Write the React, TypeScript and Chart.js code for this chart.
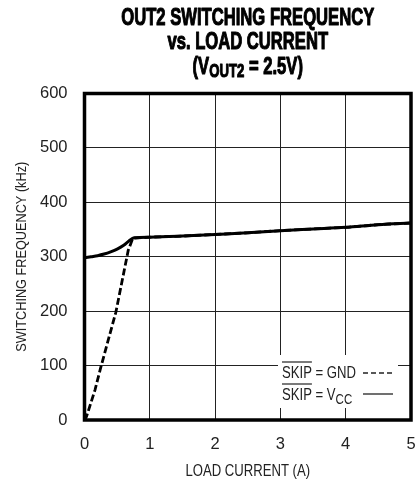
import { useEffect, useRef } from 'react';
import Chart from 'chart.js/auto';

const FONT = '"Liberation Sans", Arial, Helvetica, sans-serif';
const NARROW = 0.82;

const titleLine1 = 'OUT2 SWITCHING FREQUENCY';
const titleLine2 = 'vs. LOAD CURRENT';
const titleLine3Pre = '(V';
const titleLine3Sub = 'OUT2';
const titleLine3Post = ' = 2.5V)';

const xAxisTitle = 'LOAD CURRENT (A)';
const yAxisTitle = 'SWITCHING FREQUENCY (kHz)';
const xTickValues = [0, 1, 2, 3, 4, 5];
const yTickValues = [0, 100, 200, 300, 400, 500, 600];

// SKIP = VCC (solid)
const vccLoad = [0, 0.1, 0.2, 0.3, 0.4, 0.5, 0.6, 0.68, 0.76, 1, 1.5, 2, 2.5, 3, 3.5, 4, 4.5, 5];
const vccFreq = [298, 300, 302, 305, 309, 314, 321, 329, 335, 336, 338, 341, 344, 348, 351, 354, 359, 362];

// SKIP = GND (dashed)
const gndLoad = [0, 0.03, 0.16, 0.25, 0.48, 0.67, 0.74, 1, 1.5, 2, 2.5, 3, 3.5, 4, 4.5, 5];
const gndFreq = [0, 6, 55, 97, 198, 312, 334, 336, 338, 341, 344, 348, 351, 354, 359, 362];

const legendGnd = { main: 'SKIP', rest: ' = GND', sub: '' };
const legendVcc = { main: 'SKIP', rest: ' = V', sub: 'CC' };

export default function App() {
  const ref = useRef<HTMLCanvasElement | null>(null);

  useEffect(() => {
    if (!ref.current) return;

    const textPlugin = {
      id: 'textPlugin',
      afterDraw(chart: any) {
        const ctx = chart.ctx as CanvasRenderingContext2D;
        const ca = chart.chartArea;
        const cx = (ca.left + ca.right) / 2;
        const size = 24;
        const fMain = `bold ${size}px ${FONT}`;
        const fSub = `bold ${Math.round(size * 0.78)}px ${FONT}`;
        ctx.save();
        ctx.font = fMain;
        const sx = 253 / ctx.measureText(titleLine1).width;
        ctx.fillStyle = '#000';
        ctx.strokeStyle = '#000';
        ctx.lineWidth = 1.1;
        ctx.lineJoin = 'round';
        ctx.textBaseline = 'alphabetic';
        const drawCentered = (text: string, y: number) => {
          ctx.save();
          ctx.translate(cx, y);
          ctx.scale(sx, 1);
          ctx.font = fMain;
          ctx.textAlign = 'center';
          ctx.fillText(text, 0, 0);
          ctx.strokeText(text, 0, 0);
          ctx.restore();
        };
        drawCentered(titleLine1, 25);
        drawCentered(titleLine2, 48.5);
        ctx.save();
        ctx.translate(cx, 74);
        ctx.scale(sx, 1);
        ctx.textAlign = 'left';
        ctx.font = fMain;
        const w1 = ctx.measureText(titleLine3Pre).width;
        const w3 = ctx.measureText(titleLine3Post).width;
        ctx.font = fSub;
        const w2 = ctx.measureText(titleLine3Sub).width;
        let x = -(w1 + w2 + w3) / 2;
        ctx.font = fMain;
        ctx.fillText(titleLine3Pre, x, 0);
        ctx.strokeText(titleLine3Pre, x, 0);
        x += w1;
        ctx.font = fSub;
        ctx.fillText(titleLine3Sub, x, 3);
        ctx.strokeText(titleLine3Sub, x, 3);
        x += w2;
        ctx.font = fMain;
        ctx.fillText(titleLine3Post, x, 0);
        ctx.strokeText(titleLine3Post, x, 0);
        ctx.restore();

        // axis titles
        ctx.fillStyle = '#222';
        ctx.textAlign = 'center';
        ctx.textBaseline = 'alphabetic';
        ctx.save();
        ctx.translate(cx, 476);
        ctx.scale(NARROW, 1);
        ctx.font = `16px ${FONT}`;
        ctx.fillText(xAxisTitle, 0, 0);
        ctx.restore();
        ctx.save();
        ctx.translate(26, (ca.top + ca.bottom) / 2);
        ctx.rotate(-Math.PI / 2);
        ctx.font = `15.5px ${FONT}`;
        const sy = 190 / ctx.measureText(yAxisTitle).width;
        ctx.scale(sy, 1);
        ctx.fillText(yAxisTitle, 0, 0);
        ctx.restore();
        ctx.restore();
      },
    };

    const framePlugin = {
      id: 'framePlugin',
      afterDatasetsDraw(chart: any) {
        const ctx = chart.ctx as CanvasRenderingContext2D;
        const ca = chart.chartArea;
        ctx.save();
        ctx.fillStyle = '#fff';
        ctx.fillRect(ca.right - 133, ca.bottom - 65, 120, 53);
        ctx.fillStyle = '#222';
        ctx.strokeStyle = '#222';
        const fs = 16;
        const drawEntry = (entry: { main: string; rest: string; sub: string }, baseY: number, lineY: number, dashed: boolean) => {
          const x0 = ca.right - 129;
          ctx.save();
          ctx.translate(x0, baseY);
          ctx.scale(NARROW, 1);
          let x = 0;
          ctx.font = `${fs}px ${FONT}`;
          ctx.textAlign = 'left';
          ctx.textBaseline = 'alphabetic';
          ctx.fillText(entry.main, x, 0);
          const wm = ctx.measureText(entry.main).width;
          ctx.lineWidth = 1.2;
          ctx.beginPath();
          ctx.moveTo(x, -16);
          ctx.lineTo(x + wm, -16);
          ctx.stroke();
          x += wm;
          ctx.fillText(entry.rest, x, 0);
          x += ctx.measureText(entry.rest).width;
          if (entry.sub) {
            ctx.font = `${Math.round(fs * 0.88)}px ${FONT}`;
            ctx.fillText(entry.sub, x, 3.5);
          }
          ctx.restore();
          ctx.lineWidth = 1.3;
          ctx.setLineDash(dashed ? [5, 3] : []);
          ctx.beginPath();
          ctx.moveTo(ca.right - 48, lineY);
          ctx.lineTo(ca.right - 18, lineY);
          ctx.stroke();
          ctx.setLineDash([]);
        };
        drawEntry(legendGnd, ca.bottom - 42, ca.bottom - 47, true);
        drawEntry(legendVcc, ca.bottom - 20, ca.bottom - 26, false);
        ctx.strokeStyle = '#000';
        ctx.lineWidth = 3.5;
        ctx.strokeRect(ca.left, ca.top, ca.right - ca.left, ca.bottom - ca.top);
        ctx.restore();
      },
    };

    const chart = new Chart(ref.current, {
      type: 'scatter',
      data: {
        datasets: [
          {
            label: 'SKIP = VCC',
            data: vccLoad.map((x, i) => ({ x, y: vccFreq[i] })),
            showLine: true,
            borderColor: '#000',
            backgroundColor: '#000',
            borderWidth: 3,
            pointRadius: 0,
            cubicInterpolationMode: 'monotone',
          },
          {
            label: 'SKIP = GND',
            data: gndLoad.map((x, i) => ({ x, y: gndFreq[i] })),
            showLine: true,
            borderColor: '#000',
            backgroundColor: '#000',
            borderWidth: 2.8,
            borderDash: [7, 3],
            pointRadius: 0,
          },
        ],
      },
      options: {
        animation: false,
        responsive: false,
        layout: { padding: { top: 93.5, right: 4, left: 0, bottom: 0 } },
        plugins: {
          legend: { display: false },
          title: { display: false },
          tooltip: { enabled: false },
        },
        scales: {
          x: {
            type: 'linear',
            min: 0,
            max: 5,
            afterBuildTicks: (s: any) => {
              s.ticks = xTickValues.map((v) => ({ value: v }));
            },
            afterFit: (s: any) => {
              s.height = 62;
              s.paddingLeft = 0;
              s.paddingRight = 0;
            },
            ticks: {
              font: { family: FONT, size: 16.5 },
              color: '#222',
              padding: 15,
              maxRotation: 0,
              autoSkip: false,
            },
            grid: { color: '#222', lineWidth: 1, drawTicks: false },
            border: { display: false },
          },
          y: {
            type: 'linear',
            min: 0,
            max: 600,
            afterBuildTicks: (s: any) => {
              s.ticks = yTickValues.map((v) => ({ value: v }));
            },
            afterFit: (s: any) => {
              s.width = 84.5;
              s.paddingTop = 0;
              s.paddingBottom = 0;
            },
            ticks: {
              font: { family: FONT, size: 16.5 },
              color: '#222',
              padding: 17,
              autoSkip: false,
            },
            grid: { color: '#222', lineWidth: 1, drawTicks: false },
            border: { display: false },
          },
        },
      },
      plugins: [textPlugin, framePlugin],
    } as any);

    return () => chart.destroy();
  }, []);

  return (
    <div style={{ position: 'fixed', left: 0, top: 0, width: 415, height: 482, background: '#fff' }}>
      <canvas ref={ref} width={415} height={482} style={{ display: 'block' }} />
    </div>
  );
}
